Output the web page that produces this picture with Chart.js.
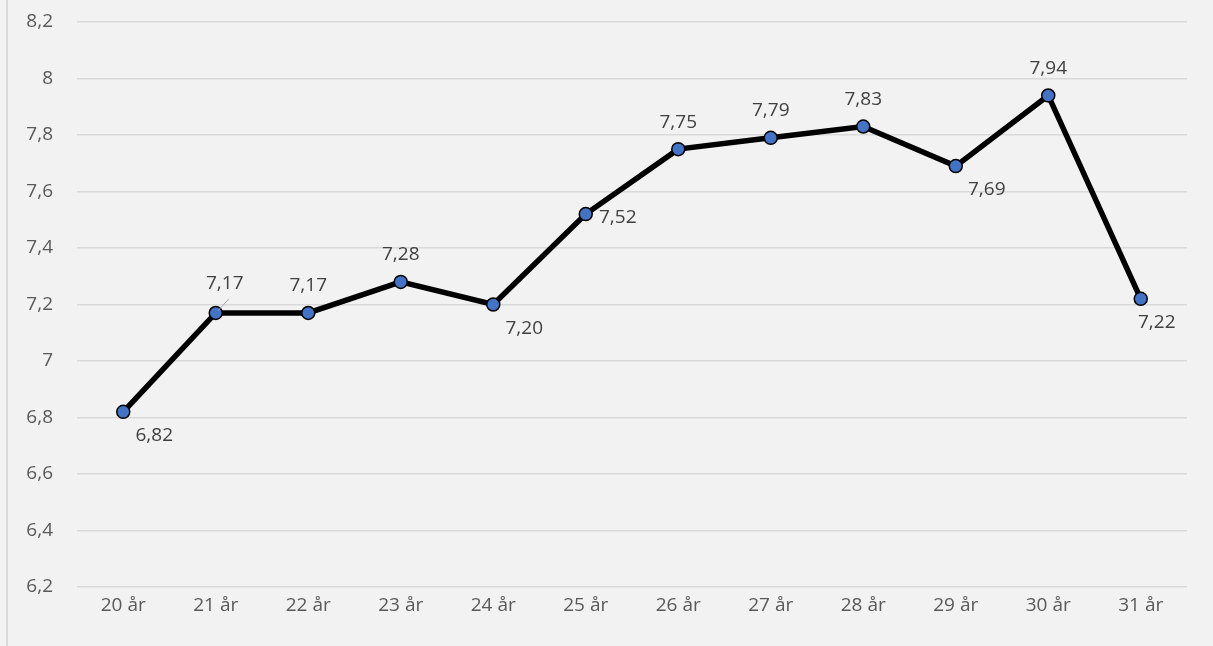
<!DOCTYPE html>
<html><head><meta charset="utf-8">
<script src="https://cdn.jsdelivr.net/npm/chart.js@4/dist/chart.umd.min.js"></script>
<style>html,body{margin:0;padding:0;background:#f2f2f2}#wrap{width:1213px;height:646px;position:relative}</style>
</head><body><div id="wrap"><canvas id="c" width="1213" height="646"></canvas></div>
<script>
const categories = ['20 år','21 år','22 år','23 år','24 år','25 år','26 år','27 år','28 år','29 år','30 år','31 år'];
const values = [6.82, 7.17, 7.17, 7.28, 7.20, 7.52, 7.75, 7.79, 7.83, 7.69, 7.94, 7.22];
const labelPos = ['br','above','above','above','br','right','above','above','above','br','above','br'];
const leaders = [false,true,false,false,false,false,false,false,false,false,false,false];

const fmt = v => v.toFixed(2).replace('.', ',');
const FONT = '"Open Sans", sans-serif';

const bgPlugin = {
  id: 'bg',
  beforeDraw(chart) {
    const ctx = chart.ctx;
    ctx.save();
    ctx.fillStyle = '#f2f2f2';
    ctx.fillRect(0, 0, chart.width, chart.height);
    ctx.strokeStyle = '#d9d9d9';
    ctx.lineWidth = 2;
    ctx.beginPath(); ctx.moveTo(7, 0); ctx.lineTo(7, chart.height); ctx.stroke();
    ctx.restore();
  }
};

const labelPlugin = {
  id: 'dl',
  afterDatasetsDraw(chart) {
    const ctx = chart.ctx;
    const meta = chart.getDatasetMeta(0);
    ctx.save();
    ctx.font = '19px ' + FONT;
    ctx.fillStyle = '#404040';
    ctx.textBaseline = 'middle';
    meta.data.forEach((pt, i) => {
      const x = pt.x, y = pt.y;
      let tx = x, ty = y;
      const p = labelPos[i];
      if (p === 'above') { ty = y - 27; if (leaders[i]) { tx = x + 9; ty = y - 29; } }
      else if (p === 'br') { tx = x + 31; ty = y + 24; if (i === 11) { tx = x + 16; } }
      else if (p === 'right') { tx = x + 32; ty = y + 3; }
      if (leaders[i]) {
        ctx.strokeStyle = '#a6a6a6'; ctx.lineWidth = 1;
        ctx.beginPath(); ctx.moveTo(x + 2, y - 2); ctx.lineTo(x + 13, y - 14); ctx.stroke();
      }
      ctx.textAlign = 'center';
      ctx.fillText(fmt(values[i]), tx, ty);
    });
    ctx.restore();
  }
};

new Chart(document.getElementById('c'), {
  type: 'line',
  data: {
    labels: categories,
    datasets: [{
      data: values,
      borderColor: '#000000',
      borderWidth: 5.5,
      tension: 0,
      pointRadius: 6.5,
      pointBackgroundColor: '#4472c4',
      pointBorderColor: '#000000',
      pointBorderWidth: 1.5
    }]
  },
  options: {
    responsive: false,
    animation: false,
    layout: { padding: { left: 0, right: 26, top: 22, bottom: 0 } },
    plugins: { legend: { display: false }, tooltip: { enabled: false } },
    scales: {
      x: {
        offset: true,
        grid: { display: false, drawTicks: false },
        border: { display: false },
        ticks: { color: '#595959', font: { size: 19, family: FONT }, padding: 7, maxRotation: 0 },
        afterFit(s) { s.height = 59; s.paddingLeft = 0; s.paddingRight = 0; }
      },
      y: {
        min: 6.2, max: 8.2,
        grid: { color: '#d9d9d9', lineWidth: 1.5, drawTicks: false },
        border: { display: false },
        ticks: {
          stepSize: 0.2,
          color: '#595959',
          font: { size: 19, family: FONT },
          padding: 24,
          callback: v => String(Number(v.toFixed(1))).replace('.', ',')
        },
        afterFit(s) { s.width = 77; s.paddingTop = 0; s.paddingBottom = 0; }
      }
    }
  },
  plugins: [bgPlugin, labelPlugin]
});
</script>
</body></html>
